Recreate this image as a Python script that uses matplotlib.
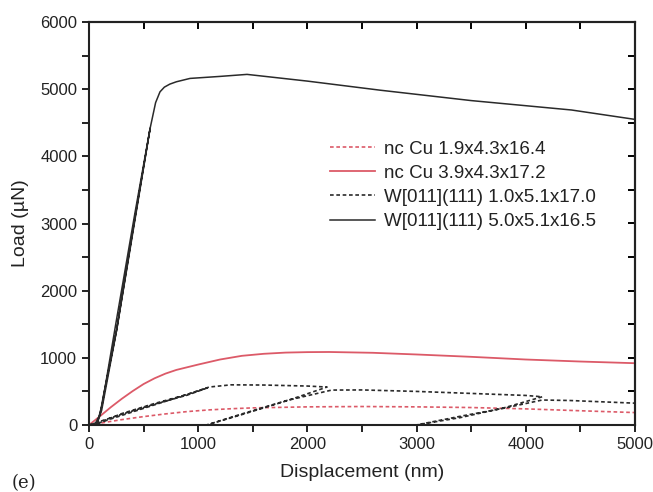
import numpy as np
import matplotlib
matplotlib.use("Agg")
import matplotlib.pyplot as plt
from matplotlib.ticker import MultipleLocator

plt.rcParams['font.family'] = ['Liberation Sans', 'DejaVu Sans']

# nc Cu 1.9x4.3x16.4 (red, dotted)
cu19_x = [0, 150, 300, 500, 700, 900, 1100, 1300, 1500, 2000, 2500, 3000, 3500, 4000, 4500, 5000]
cu19_y = [0, 40, 80, 125, 165, 200, 225, 242, 255, 270, 275, 270, 260, 240, 212, 185]

# nc Cu 3.9x4.3x17.2 (red, solid)
cu39_x = [0, 100, 200, 300, 400, 500, 600, 700, 800, 900, 1000, 1200, 1400, 1600, 1800,
          2000, 2200, 2600, 3000, 3500, 4000, 4500, 5000]
cu39_y = [0, 130, 265, 390, 505, 610, 695, 765, 820, 860, 900, 975, 1030, 1060, 1078,
          1085, 1087, 1075, 1050, 1015, 975, 945, 920]

# W[011](111) 1.0x5.1x17.0 (black, dotted) - load / unload / reload
w10_x = [0, 300, 600, 900, 1080, 600, 200, 40, 300, 600, 900, 1100, 1300, 1600, 2000, 2180,
         1800, 1400, 1077, 1400, 1800, 2222, 2500, 3000, 3500, 4000, 4150,
         3800, 3400, 2996, 3400, 3800, 4150, 4400, 4700, 5000]
w10_y = [0, 160, 310, 445, 550, 300, 90, 0, 170, 320, 455, 565, 598, 595, 580, 565,
         355, 155, 0, 165, 360, 520, 522, 500, 470, 440, 420,
         255, 110, 0, 130, 250, 372, 365, 345, 325]

# W[011](111) 5.0x5.1x16.5 (black, solid)
w50_x = [0, 60, 100, 130, 253, 400, 560, 420, 250, 120, 70, 116, 253, 400, 560,
         610, 650, 690, 740, 800, 925, 1200, 1447, 2000, 2665, 3500, 4418, 5000]
w50_y = [0, 30, 150, 420, 1410, 2850, 4420, 3150, 1550, 300, 0, 220, 1410, 2880, 4420,
         4800, 4960, 5030, 5075, 5110, 5160, 5190, 5220, 5120, 4985, 4830, 4690, 4550]

labels = ['nc Cu 1.9x4.3x16.4', 'nc Cu 3.9x4.3x17.2',
          'W[011](111) 1.0x5.1x17.0', 'W[011](111) 5.0x5.1x16.5']

red = '#dc5a68'
dark = '#2a2a2a'

fig = plt.figure(figsize=(6.53, 4.92), dpi=100)
ax = fig.add_axes([89 / 653, 1 - 425 / 492, 546 / 653, 403 / 492])

ax.plot(cu19_x, cu19_y, color=red, lw=1.2, dashes=(2.2, 1.6), label=labels[0])
ax.plot(cu39_x, cu39_y, color=red, lw=1.3, label=labels[1])
ax.plot(w10_x, w10_y, color=dark, lw=1.2, dashes=(2.2, 1.6), label=labels[2])
ax.plot(w50_x, w50_y, color=dark, lw=1.1, label=labels[3])

ax.set_xlim(0, 5000)
ax.set_ylim(0, 6000)
ax.xaxis.set_major_locator(MultipleLocator(1000))
ax.xaxis.set_minor_locator(MultipleLocator(500))
ax.yaxis.set_major_locator(MultipleLocator(1000))
ax.yaxis.set_minor_locator(MultipleLocator(500))
ax.tick_params(which='both', direction='out', length=5, width=1.4,
               labelsize=12, colors='#222222')

# mirrored ticks pointing inward on top and right
top = ax.secondary_xaxis('top')
top.xaxis.set_major_locator(MultipleLocator(1000))
top.xaxis.set_minor_locator(MultipleLocator(500))
top.tick_params(which='both', direction='in', length=5, width=1.4, labeltop=False)
right = ax.secondary_yaxis('right')
right.yaxis.set_major_locator(MultipleLocator(1000))
right.yaxis.set_minor_locator(MultipleLocator(500))
right.tick_params(which='both', direction='in', length=5, width=1.4, labelright=False)

for sp in list(ax.spines.values()) + [top.spines['top'], right.spines['right']]:
    sp.set_linewidth(1.5)
    sp.set_color('#222222')

ax.set_xlabel('Displacement (nm)', fontsize=14, color='#222222', labelpad=9)
ax.set_ylabel('Load (\u00b5N)', fontsize=14, color='#222222', labelpad=8)

leg = ax.legend(loc='upper left', bbox_to_anchor=(0.41, 0.748), frameon=False,
                fontsize=13.5, handlelength=2.4, labelspacing=0.38, handletextpad=0.5)
for t in leg.get_texts():
    t.set_color('#222222')

fig.text(12 / 653, 1 - 474 / 492, '(e)', fontsize=13, family='DejaVu Serif',
         va='top', color='#222222')

fig.savefig('out.png', dpi=100)
